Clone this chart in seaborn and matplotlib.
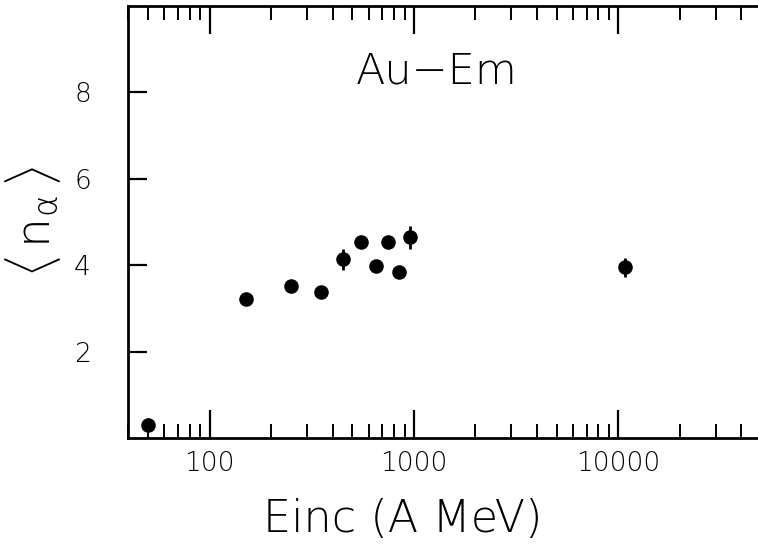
import numpy as np
import pandas as pd
import matplotlib
matplotlib.use("Agg")
import matplotlib.pyplot as plt
import seaborn as sns
from matplotlib.ticker import LogLocator, NullFormatter, FixedLocator

# Mean alpha multiplicity vs. incident energy, Au-Emulsion
energy = [50, 150, 250, 350, 450, 550, 650, 750, 850, 960, 10800]
n_alpha = [0.31, 3.22, 3.53, 3.39, 4.14, 4.53, 3.99, 4.53, 3.85, 4.65, 3.95]
n_alpha_err = [0.15, 0.08, 0.08, 0.08, 0.24, 0.08, 0.08, 0.08, 0.08, 0.27, 0.22]

x_ticks = [100, 1000, 10000]
x_tick_labels = ["100", "1000", "10000"]
y_ticks = [2, 4, 6, 8]

df = pd.DataFrame({"E": energy, "n": n_alpha, "err": n_alpha_err})

sns.set_style("ticks")
plt.rcParams["font.family"] = ["DejaVu Sans"]
plt.rcParams["font.weight"] = "light"
plt.rcParams["mathtext.fontset"] = "custom"
plt.rcParams["mathtext.rm"] = "DejaVu Sans:light"
plt.rcParams["mathtext.it"] = "DejaVu Sans:light"
for key in ["text.color", "axes.labelcolor", "xtick.color", "ytick.color",
            "axes.edgecolor"]:
    plt.rcParams[key] = "black"

W, H = 758, 544
fig = plt.figure(figsize=(W / 100, H / 100), dpi=100)
left, right, bottom, top = 128.3, 761, 438.2, 6
ax = fig.add_axes([left / W, (H - bottom) / H, (right - left) / W, (bottom - top) / H])

ax.errorbar(df["E"], df["n"], yerr=df["err"], fmt="none", ecolor="black",
            elinewidth=2.0, capsize=0, zorder=2)
sns.scatterplot(data=df, x="E", y="n", ax=ax, color="black", s=110,
                edgecolor="black", linewidth=0, zorder=3, legend=False)

ax.set_xscale("log")
ax.set_xlim(40, 50000)
ax.set_ylim(0, 10)
ax.set_xlabel("")
ax.set_ylabel("")

ax.xaxis.set_major_locator(FixedLocator(x_ticks))
ax.set_xticklabels(x_tick_labels)
ax.xaxis.set_minor_locator(LogLocator(base=10, subs=np.arange(2, 10), numticks=20))
ax.xaxis.set_minor_formatter(NullFormatter())
ax.set_yticks(y_ticks)
ax.set_yticklabels([str(v) for v in y_ticks])

ax.tick_params(axis="x", which="major", direction="in", length=20, width=1.6,
               top=True, bottom=True, labelsize=19, pad=9)
ax.tick_params(axis="x", which="minor", direction="in", length=10, width=1.4,
               top=True, bottom=True)
ax.tick_params(axis="y", which="major", direction="in", length=14, width=1.6,
               left=True, right=False, labelsize=19, pad=27)
ax.tick_params(axis="y", which="minor", left=False, right=False)

for side in ["left", "bottom", "top"]:
    ax.spines[side].set_linewidth(2.0)
ax.spines["right"].set_visible(False)

# Axis titles placed in figure pixels
fig.text(403 / W, (H - 532) / H, "Einc (A MeV)", fontsize=32,
         ha="center", va="baseline")
fig.text(33 / W, (H - 222) / H, r"$\langle\,\mathrm{n}_{\mathrm{\alpha}}\,\rangle$",
         fontsize=34, rotation=90, ha="center", va="center")

ax.text(0.487, 0.85, "Au\u2212Em", transform=ax.transAxes, fontsize=31,
        ha="center", va="center")

fig.savefig("out.png", dpi=100)
